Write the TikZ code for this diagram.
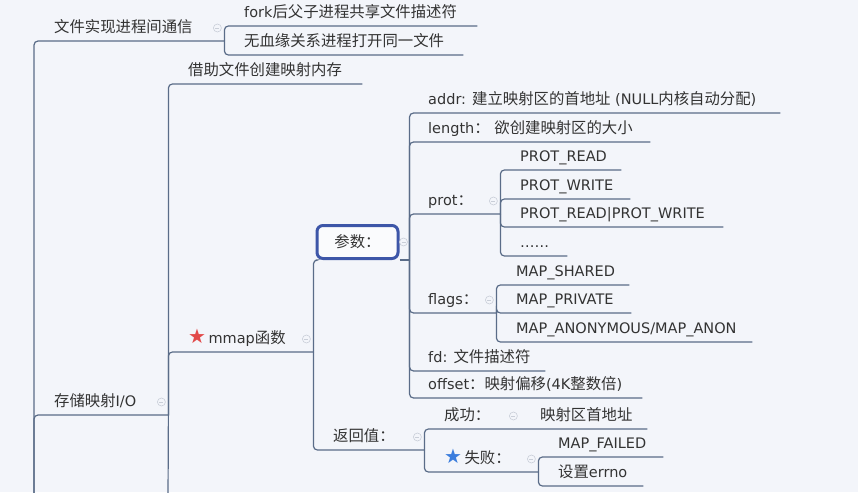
\documentclass[tikz,border=0pt]{standalone}
\usepackage{fontspec}
\setmainfont{DejaVu Sans}
\newfontfamily\zh{Noto Sans CJK SC}[Scale=1.06]

\definecolor{bg}{HTML}{F3F5FA}
\definecolor{linec}{HTML}{5A6C88}
\definecolor{txtc}{HTML}{333333}
\definecolor{foldc}{HTML}{C9CED8}
\definecolor{boxc}{HTML}{3D56A8}
\definecolor{starred}{HTML}{E24A4A}
\definecolor{starblue}{HTML}{3B7DDD}

% text of a topic: 20pt in from the bracket, box as wide as the underline
\newcommand\topictext[2]{\makebox[#1][l]{\hspace{20pt}#2}}
\newcommand\topicstar[1]{\textcolor{#1}{\fontsize{20}{16}\selectfont ★}\,}

\begin{document}
\begin{tikzpicture}[x=1pt, y=-1pt,
  topic/.style={anchor=south west, inner xsep=0pt, inner ysep=5pt, text height=11pt, text depth=3pt, text=txtc, font=\fontsize{14.5}{16}\selectfont},
  conn/.style={draw=linec, line width=1.2pt, rounded corners=4pt},
  fold/.style={circle, draw=foldc, fill=bg, minimum size=8pt, inner sep=0pt, line width=0.6pt,
    path picture={\draw[foldc, line width=0.6pt] ([xshift=-2pt]path picture bounding box.center) -- ([xshift=2pt]path picture bounding box.center);}},
  keybox/.style={draw=boxc, line width=3pt, rounded corners=6pt, fill=white!60!bg, minimum width=81pt, minimum height=33pt, inner sep=0pt, text=txtc, font=\fontsize{14.5}{16}\selectfont}]
        \useasboundingbox (0, 0) rectangle (858, 492);
        \fill [bg] (0, 0) rectangle (858, 492);
        \clip (0, 0) rectangle (858, 492);

        \coordinate (root) at (34, 500);
        \coordinate (more) at (168, 500);

        % first level
        \node [topic] (ipc) at (34, 41) {\topictext{190pt}{\zh 文件实现进程间通信}};
        \node [topic] (mio) at (34, 415) {\topictext{134pt}{{\zh 存储映射}I/O}};

        \node [topic] (fork) at (224, 26) {\topictext{253pt}{fork{\zh 后父子进程共享文件描述符}}};
        \node [topic] (norel) at (224, 55) {\topictext{239pt}{\zh 无血缘关系进程打开同一文件}};

        \node [topic] (byfile) at (168, 84) {\topictext{194pt}{\zh 借助文件创建映射内存}};
        \node [topic] (mmap) at (168, 352) {\topictext{145pt}{\topicstar{starred}mmap{\zh 函数}}};

        % mmap
        \node [keybox] (param) at (357.5, 242) {\zh 参数：};
        \coordinate (pj) at ([xshift=10pt]param.south east);
        \node [topic] (ret) at (313, 450) {\topictext{111pt}{\zh 返回值：}};

        \node [topic] (addr) at (408, 113) {\topictext{372pt}{addr: {\zh 建立映射区的首地址} (NULL{\zh 内核自动分配})}};
        \node [topic] (len) at (408, 142) {\topictext{242pt}{length{\zh ：} {\zh 欲创建映射区的大小}}};
        \node [topic] (prot) at (408, 214) {\topictext{92pt}{prot{\zh ：}}};
        \node [topic] (flags) at (408, 313) {\topictext{88pt}{flags{\zh ：}}};
        \node [topic] (fd) at (408, 371) {\topictext{137pt}{fd: {\zh 文件描述符}}};
        \node [topic] (offset) at (408, 398) {\topictext{234pt}{offset{\zh ：映射偏移}(4K{\zh 整数倍})}};

        \node [topic] (pread) at (500, 170) {\topictext{121pt}{PROT\_READ}};
        \node [topic] (pwrite) at (500, 199) {\topictext{130pt}{PROT\_WRITE}};
        \node [topic] (prw) at (500, 227) {\topictext{223pt}{PROT\_READ|PROT\_WRITE}};
        \node [topic] (pdots) at (500, 256) {\topictext{67pt}{……}};

        \node [topic] (mshared) at (496, 285) {\topictext{133pt}{MAP\_SHARED}};
        \node [topic] (mprivate) at (496, 313) {\topictext{135pt}{MAP\_PRIVATE}};
        \node [topic] (manon) at (496, 342) {\topictext{256pt}{MAP\_ANONYMOUS/MAP\_ANON}};

        \node [topic] (ok) at (424, 429) {\topictext{96pt}{\zh 成功：}};
        \node [topic] (okaddr) at (520, 429) {\topictext{127pt}{\zh 映射区首地址}};
        \node [topic] (fail) at (424, 472) {\topictext{114pt}{\topicstar{starblue}{\zh 失败：}}};
        \node [topic] (mfailed) at (538, 457) {\topictext{125pt}{MAP\_FAILED}};
        \node [topic] (errno) at (538, 486) {\topictext{105pt}{{\zh 设置}errno}};

        % connectors
        \draw [conn] (root) |- (ipc.south east);
        \draw [conn] (root) |- (mio.south east);
        \draw [conn] (ipc.south east) |- (fork.south east);
        \draw [conn] (ipc.south east) |- (norel.south east);
        \draw [conn] (mio.south east) |- (byfile.south east);
        \draw [conn] (mio.south east) |- (mmap.south east);
        \draw [conn] (mio.south east) -- (more);
        \draw [conn] (mmap.south east) |- (param.south west);
        \draw [conn] (mmap.south east) |- (ret.south east);
        \draw [conn] (param.south east) -- (pj);
        \foreach \c in {addr, len, prot, flags, fd, offset}{
          \draw [conn] (pj) |- (\c.south east);
        }
        \foreach \c in {pread, pwrite, prw, pdots}{
          \draw [conn] (prot.south east) |- (\c.south east);
        }
        \foreach \c in {mshared, mprivate, manon}{
          \draw [conn] (flags.south east) |- (\c.south east);
        }
        \draw [conn] (ret.south east) |- (ok.south east) -- (okaddr.south east);
        \draw [conn] (ret.south east) |- (fail.south east);
        \draw [conn] (fail.south east) |- (mfailed.south east);
        \draw [conn] (fail.south east) |- (errno.south east);

        % collapse marks
        \foreach \p in {ipc, mio, mmap, prot, flags, ret, ok, fail}{
          \node [fold] (fold-\p) at ([shift={(-7, -13)}]\p.south east) {};
        }
        \node [fold] (fold-param) at ([xshift=4pt]param.east) {};
      \end{tikzpicture}
\end{document}
